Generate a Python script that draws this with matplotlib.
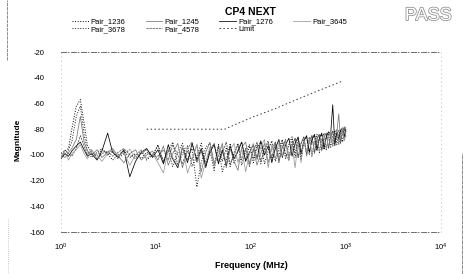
''' cp4_next.py '''
import matplotlib
import matplotlib.pyplot as plt
import matplotlib.patheffects as pe
from matplotlib.lines import Line2D

matplotlib.use('Agg')

freq = [1.0, 1.1, 1.2, 1.3, 1.45, 1.6, 1.75, 1.9, 2.1, 2.4,
        2.7, 3.1, 3.5, 4.0, 4.6, 5.3, 6.1, 7.0, 8.0, 9.2,
        10.5, 12.0, 13.5, 15.0, 17.0, 19.0, 21.5, 24.0, 27.0, 30.0,
        33.5, 37.0, 41.0, 45.5, 50.0, 55.0, 60.5, 66.5, 73.0, 80.0,
        88.0, 96.5,
        106, 116, 127, 139, 152, 166, 181, 197, 214, 232,
        251, 271, 292, 314, 337, 361, 386, 412, 439, 467,
        496, 526, 557, 589, 622, 656, 691, 727, 764, 802,
        841, 881, 922, 964, 1000]

pair_1236 = [-99, -97, -95, -80, -62, -57, -75, -93, -98, -101,
             -96, -99, -104, -100, -97, -102, -99, -103, -98, -101,
             -92, -106, -97, -90, -108, -99, -93, -109, -101, -91,
             -107, -96, -112, -92, -105, -95, -109, -98, -91, -108,
             -97, -92,
             -106, -94, -90, -107, -97, -89, -105, -95, -88, -103,
             -92, -86, -102, -90, -104, -88, -99, -86, -101, -90,
             -84, -98, -88, -83, -96, -85, -82, -93, -84, -80,
             -92, -83, -79, -89, -81]

pair_1245 = [-100, -102, -98, -95, -88, -70, -90, -97, -100, -96,
             -102, -98, -95, -101, -106, -99, -96, -104, -100, -97,
             -104, -93, -108, -99, -91, -110, -97, -104, -92, -113,
             -98, -90, -106, -101, -91, -110, -95, -105, -112, -94,
             -90, -107,
             -95, -108, -99, -91, -106, -95, -90, -105, -94, -89,
             -104, -93, -87, -102, -91, -86, -101, -89, -85, -99,
             -88, -84, -97, -86, -83, -95, -85, -82, -93, -83,
             -68, -90, -81, -78, -86]

pair_1276 = [-103, -99, -101, -97, -93, -90, -96, -101, -99, -104,
             -97, -83, -98, -102, -96, -117, -105, -98, -95, -102,
             -96, -107, -92, -103, -110, -94, -106, -91, -104, -95,
             -109, -98, -92, -107, -96, -108, -93, -103, -97, -90,
             -105, -98,
             -92, -103, -89, -100, -93, -106, -95, -88, -102, -92,
             -87, -101, -91, -86, -99, -89, -85, -98, -88, -84,
             -96, -87, -83, -95, -86, -82, -84, -61, -91, -82,
             -88, -81, -79, -86, -80]

pair_3645 = [-101, -98, -104, -99, -96, -92, -99, -103, -97, -100,
             -105, -99, -96, -101, -98, -108, -100, -96, -103, -99,
             -106, -114, -95, -102, -108, -93, -114, -104, -92, -118,
             -105, -94, -109, -97, -93, -107, -96, -91, -106, -95,
             -113, -99,
             -91, -104, -94, -88, -110, -92, -103, -90, -101, -89,
             -103, -93, -110, -90, -106, -88, -98, -87, -100, -90,
             -86, -97, -88, -84, -95, -86, -82, -93, -85, -81,
             -91, -84, -79, -89, -82]

pair_3678 = [-98, -100, -96, -90, -70, -62, -84, -97, -102, -98,
             -95, -100, -97, -103, -99, -96, -102, -97, -104, -100,
             -93, -105, -96, -109, -98, -91, -104, -95, -125, -106,
             -94, -91, -108, -93, -113, -104, -91, -107, -97, -90,
             -104, -93,
             -103, -92, -107, -95, -89, -104, -92, -101, -89, -99,
             -104, -88, -99, -87, -102, -90, -86, -100, -88, -85,
             -97, -87, -84, -96, -86, -83, -94, -85, -81, -92,
             -84, -80, -90, -82, -78]

pair_4578 = [-102, -96, -99, -101, -95, -85, -93, -100, -96, -103,
             -99, -97, -101, -98, -95, -100, -103, -99, -96, -101,
             -101, -96, -104, -92, -100, -107, -95, -90, -106, -97,
             -110, -96, -91, -105, -99, -90, -107, -100, -92, -104,
             -95, -109,
             -97, -90, -105, -96, -91, -102, -90, -106, -94, -88,
             -101, -93, -87, -102, -91, -86, -99, -90, -85, -98,
             -87, -84, -96, -87, -83, -95, -86, -81, -93, -84,
             -81, -91, -83, -79, -85]

limit_freq = [8.0, 53, 63, 105, 180, 350, 890]
limit_vals = [-80, -80, -77.5, -70.5, -64, -55, -43]

y_ticks = [-20, -40, -60, -80, -100, -120, -140, -160]
x_ticks = [1, 10, 100, 1000, 10000]


def draw_chart() -> None:
    ''' draws the NEXT sweep of the six pairs against the limit '''
    plt.rcParams['font.family'] = ['Liberation Sans', 'DejaVu Sans']
    plt.rcParams['axes.unicode_minus'] = False

    fig = plt.figure(figsize=(4.69, 2.74), dpi=100)
    ax = fig.add_axes([0.130, 0.153, 0.810, 0.657])

    ax.plot(freq, pair_1236, color='black', linestyle=':', lw=0.7,
            label='Pair_1236')
    ax.plot(freq, pair_3678, color='#1a1a1a', linestyle=':', lw=0.7,
            label='Pair_3678')
    ax.plot(freq, pair_1245, color='#777777', lw=0.55, label='Pair_1245')
    ax.plot(freq, pair_4578, color='#555555', lw=0.55,
            linestyle=(0, (3, 1)), label='Pair_4578')
    ax.plot(freq, pair_1276, color='black', lw=0.55, label='Pair_1276')
    ax.plot(limit_freq, limit_vals, color='#333333', lw=0.7,
            linestyle=(0, (1.5, 2.5)), label='Limit')
    ax.plot(freq, pair_3645, color='#999999', lw=0.55, label='Pair_3645')

    ax.set_xscale('log')
    ax.set_xlim(1, 10000)
    ax.set_ylim(-160, -20)
    ax.set_xticks(x_ticks)
    ax.set_yticks(y_ticks)
    ax.minorticks_off()
    ax.tick_params(axis='both', length=0, labelsize=5.5)
    ax.tick_params(axis='y', pad=12)
    ax.tick_params(axis='x', pad=7)

    for side in ['top', 'bottom']:
        ax.spines[side].set_color('#555555')
        ax.spines[side].set_linewidth(0.6)
        ax.spines[side].set_linestyle((0, (6, 2, 1, 3)))
    for side in ['left', 'right']:
        ax.spines[side].set_color('#b8b8b8')
        ax.spines[side].set_linewidth(0.5)
        ax.spines[side].set_linestyle((0, (1, 5)))

    fig.legend(loc='upper left', bbox_to_anchor=(0.153, 0.934), ncol=4,
               frameon=False, fontsize=5.5, handlelength=2.2,
               handletextpad=0.3, columnspacing=2.6, labelspacing=0.0,
               borderpad=0, borderaxespad=0)

    fig.text(0.535, 0.958, 'CP4 NEXT', ha='center', va='center',
             fontsize=7.5, fontweight='bold')
    fig.text(0.913, 0.943, 'PASS', ha='center', va='center', fontsize=13,
             color='white',
             path_effects=[pe.withStroke(linewidth=1.1, foreground='#8c8c8c')])
    fig.text(0.038, 0.49, 'Magnitude', rotation=90, ha='center',
             va='center', fontsize=6, fontweight='bold')
    fig.text(0.537, 0.03, 'Frequency (MHz)', ha='center', va='center',
             fontsize=6.5, fontweight='bold')

    # scan marks along the page edges
    fig.add_artist(Line2D([0.015, 0.015], [0.78, 1.0], color='#777777',
                          lw=0.6, linestyle=(0, (4, 1))))
    fig.add_artist(Line2D([0.017, 0.017], [0.0, 0.2], color='#999999',
                          lw=0.5, linestyle=(0, (1, 2))))
    fig.add_artist(Line2D([0.985, 0.985], [0.0, 0.44], color='#777777',
                          lw=0.6, linestyle=(0, (5, 1))))

    fig.savefig('out.png', dpi=100)


def main():
    ''' entry point '''
    draw_chart()


if __name__ == '__main__':
    main()
